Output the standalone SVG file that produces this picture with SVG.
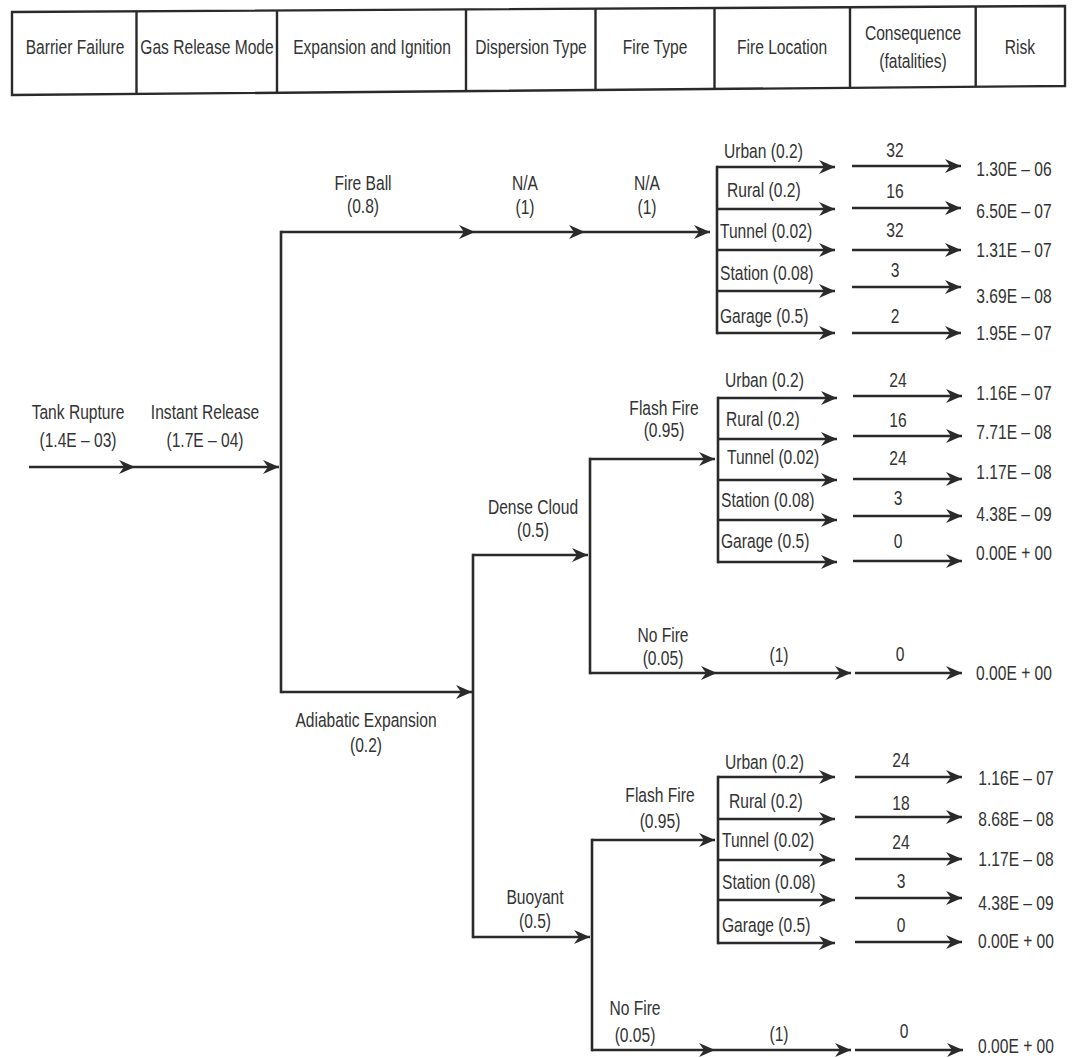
<svg xmlns="http://www.w3.org/2000/svg" width="1072" height="1058" viewBox="0 0 1072 1058">
<style>
text{font-family:"Liberation Sans",Arial,sans-serif;font-size:19.5px;fill:#333;text-anchor:middle}
text.s{text-anchor:start}
.ln{fill:none;stroke:#2a2a2a;stroke-width:2.6}
.ar{marker-end:url(#ah)}
.mm{marker-mid:url(#ah);marker-end:url(#ah)}
.v{stroke-linecap:square}
.tbl{fill:none;stroke:#2a2a2a;stroke-width:2.4}
</style>
<defs>
<marker id="ah" viewBox="-17 -8 18 16" refX="0" refY="0" markerWidth="18" markerHeight="16" markerUnits="userSpaceOnUse" orient="auto">
<path d="M0,0 L-16,-7 L-11,0 L-16,7 Z" fill="#2a2a2a"/>
</marker>
</defs>
<rect width="1072" height="1058" fill="#fff"/>

<g id="header">
<path class="tbl" d="M12,12 L1065,6 L1065,86 L12,95 Z"/>
<path class="tbl" d="M136.5,11.3 V93.9 M277,10.5 V92.7 M466,9.4 V91.1 M595.5,8.7 V90 M714.5,8 V89 M850,7.2 V87.8 M975.7,6.5 V86.8"/>
<text transform="matrix(.8 0 0 1 75 54)">Barrier Failure</text>
<text transform="matrix(.8 0 0 1 207 54)">Gas Release Mode</text>
<text transform="matrix(.8 0 0 1 372 54)">Expansion and Ignition</text>
<text transform="matrix(.8 0 0 1 531 54)">Dispersion Type</text>
<text transform="matrix(.8 0 0 1 655 54)">Fire Type</text>
<text transform="matrix(.8 0 0 1 782 54)">Fire Location</text>
<text transform="matrix(.8 0 0 1 913 40)">Consequence</text>
<text transform="matrix(.8 0 0 1 913 68)">(fatalities)</text>
<text transform="matrix(.8 0 0 1 1020 54)">Risk</text>
</g>

<g id="connectors" class="ln">
<path class="ar" d="M29,467 H135"/>
<path class="ar" d="M135,467 H279"/>
<path class="v" d="M281,232 V692"/>
<path class="mm" d="M281,232 H475 H585 H710"/>
<path class="ar" d="M281,692 H472"/>
<path class="v" d="M473,555 V937"/>
<path class="ar" d="M473,555 H588"/>
<path class="v" d="M590,459 V673"/>
<path class="ar" d="M590,459 H715"/>
<path class="mm" d="M590,673 H717 H851"/>
<path class="ar" d="M855,673 H962"/>
<path class="ar" d="M473,937 H590"/>
<path class="v" d="M592,840 V1050"/>
<path class="ar" d="M592,840 H715"/>
<path class="mm" d="M592,1050 H715 H851"/>
<path class="ar" d="M855,1050 H963"/>
<!-- bracket 1 -->
<path class="v" d="M717,167 V333"/>
<path class="ar" d="M717,167 H835"/>
<path class="ar" d="M717,209 H835"/>
<path class="ar" d="M717,250 H835"/>
<path class="ar" d="M717,291 H835"/>
<path class="ar" d="M717,333 H835"/>
<path class="ar" d="M852,166 H961"/>
<path class="ar" d="M852,208 H961"/>
<path class="ar" d="M852,250 H961"/>
<path class="ar" d="M852,287 H961"/>
<path class="ar" d="M852,333 H961"/>
<!-- bracket 2 -->
<path class="v" d="M718,398 V562"/>
<path class="ar" d="M718,398 H837"/>
<path class="ar" d="M718,439 H837"/>
<path class="ar" d="M718,480 H837"/>
<path class="ar" d="M718,520 H837"/>
<path class="ar" d="M718,562 H837"/>
<path class="ar" d="M853,396 H962"/>
<path class="ar" d="M853,436 H962"/>
<path class="ar" d="M853,479 H962"/>
<path class="ar" d="M853,516 H962"/>
<path class="ar" d="M853,561 H962"/>
<!-- bracket 3 -->
<path class="v" d="M718,777 V943"/>
<path class="ar" d="M718,777 H835"/>
<path class="ar" d="M718,819 H835"/>
<path class="ar" d="M718,860 H835"/>
<path class="ar" d="M718,900 H835"/>
<path class="ar" d="M718,943 H835"/>
<path class="ar" d="M855,777 H962"/>
<path class="ar" d="M855,817 H962"/>
<path class="ar" d="M855,859 H962"/>
<path class="ar" d="M855,898 H962"/>
<path class="ar" d="M855,942 H962"/>
</g>

<g id="n-tank-rupture"><text transform="matrix(.8 0 0 1 78 419)">Tank Rupture</text><text transform="matrix(.8 0 0 1 78 447)">(1.4E – 03)</text></g>
<g id="n-instant-release"><text transform="matrix(.8 0 0 1 205 419)">Instant Release</text><text transform="matrix(.8 0 0 1 205 447)">(1.7E – 04)</text></g>
<g id="n-fire-ball"><text transform="matrix(.8 0 0 1 363 190)">Fire Ball</text><text transform="matrix(.8 0 0 1 363 213)">(0.8)</text></g>
<g id="n-fb-dispersion"><text transform="matrix(.8 0 0 1 525 190)">N/A</text><text transform="matrix(.8 0 0 1 525 214)">(1)</text></g>
<g id="n-fb-firetype"><text transform="matrix(.8 0 0 1 647 190)">N/A</text><text transform="matrix(.8 0 0 1 647 214)">(1)</text></g>
<g id="n-adiabatic"><text transform="matrix(.8 0 0 1 366 727)">Adiabatic Expansion</text><text transform="matrix(.8 0 0 1 366 752)">(0.2)</text></g>
<g id="n-dense-cloud"><text transform="matrix(.8 0 0 1 533 514)">Dense Cloud</text><text transform="matrix(.8 0 0 1 533 537)">(0.5)</text></g>
<g id="n-buoyant"><text transform="matrix(.8 0 0 1 535 904)">Buoyant</text><text transform="matrix(.8 0 0 1 535 928)">(0.5)</text></g>
<g id="n-dc-flash-fire"><text transform="matrix(.8 0 0 1 664 415)">Flash Fire</text><text transform="matrix(.8 0 0 1 664 437)">(0.95)</text></g>
<g id="n-dc-no-fire"><text transform="matrix(.8 0 0 1 663 642)">No Fire</text><text transform="matrix(.8 0 0 1 663 665)">(0.05)</text></g>
<g id="n-by-flash-fire"><text transform="matrix(.8 0 0 1 660 802)">Flash Fire</text><text transform="matrix(.8 0 0 1 660 828)">(0.95)</text></g>
<g id="n-by-no-fire"><text transform="matrix(.8 0 0 1 635 1015)">No Fire</text><text transform="matrix(.8 0 0 1 635 1042)">(0.05)</text></g>

<g id="n-fb-locations">
<text class="s" transform="matrix(.8 0 0 1 724 158)">Urban (0.2)</text>
<text class="s" transform="matrix(.8 0 0 1 727 197)">Rural (0.2)</text>
<text class="s" transform="matrix(.8 0 0 1 720 238)">Tunnel (0.02)</text>
<text class="s" transform="matrix(.8 0 0 1 720 280)">Station (0.08)</text>
<text class="s" transform="matrix(.8 0 0 1 720 323)">Garage (0.5)</text>
</g>
<g id="n-fb-consequence">
<text transform="matrix(.8 0 0 1 895 157)">32</text>
<text transform="matrix(.8 0 0 1 895 198)">16</text>
<text transform="matrix(.8 0 0 1 895 237)">32</text>
<text transform="matrix(.8 0 0 1 895 277)">3</text>
<text transform="matrix(.8 0 0 1 895 323)">2</text>
</g>
<g id="n-fb-risk">
<text transform="matrix(.8 0 0 1 1014 176)">1.30E – 06</text>
<text transform="matrix(.8 0 0 1 1014 218)">6.50E – 07</text>
<text transform="matrix(.8 0 0 1 1014 257)">1.31E – 07</text>
<text transform="matrix(.8 0 0 1 1014 303)">3.69E – 08</text>
<text transform="matrix(.8 0 0 1 1014 340)">1.95E – 07</text>
</g>

<g id="n-dc-locations">
<text class="s" transform="matrix(.8 0 0 1 725 387)">Urban (0.2)</text>
<text class="s" transform="matrix(.8 0 0 1 726 426)">Rural (0.2)</text>
<text class="s" transform="matrix(.8 0 0 1 727 464)">Tunnel (0.02)</text>
<text class="s" transform="matrix(.8 0 0 1 721 507)">Station (0.08)</text>
<text class="s" transform="matrix(.8 0 0 1 721 548)">Garage (0.5)</text>
</g>
<g id="n-dc-consequence">
<text transform="matrix(.8 0 0 1 898 387)">24</text>
<text transform="matrix(.8 0 0 1 898 427)">16</text>
<text transform="matrix(.8 0 0 1 898 465)">24</text>
<text transform="matrix(.8 0 0 1 898 505)">3</text>
<text transform="matrix(.8 0 0 1 898 548)">0</text>
</g>
<g id="n-dc-risk">
<text transform="matrix(.8 0 0 1 1014 400)">1.16E – 07</text>
<text transform="matrix(.8 0 0 1 1014 439)">7.71E – 08</text>
<text transform="matrix(.8 0 0 1 1014 479)">1.17E – 08</text>
<text transform="matrix(.8 0 0 1 1014 521)">4.38E – 09</text>
<text transform="matrix(.8 0 0 1 1014 560)">0.00E + 00</text>
</g>
<g id="n-dc-nofire-outcome">
<text transform="matrix(.8 0 0 1 779 662)">(1)</text>
<text transform="matrix(.8 0 0 1 900 661)">0</text>
<text transform="matrix(.8 0 0 1 1014 680)">0.00E + 00</text>
</g>

<g id="n-by-locations">
<text class="s" transform="matrix(.8 0 0 1 725 769)">Urban (0.2)</text>
<text class="s" transform="matrix(.8 0 0 1 729 808)">Rural (0.2)</text>
<text class="s" transform="matrix(.8 0 0 1 722 847)">Tunnel (0.02)</text>
<text class="s" transform="matrix(.8 0 0 1 722 889)">Station (0.08)</text>
<text class="s" transform="matrix(.8 0 0 1 722 932)">Garage (0.5)</text>
</g>
<g id="n-by-consequence">
<text transform="matrix(.8 0 0 1 901 767)">24</text>
<text transform="matrix(.8 0 0 1 901 810)">18</text>
<text transform="matrix(.8 0 0 1 901 849)">24</text>
<text transform="matrix(.8 0 0 1 901 888)">3</text>
<text transform="matrix(.8 0 0 1 901 932)">0</text>
</g>
<g id="n-by-risk">
<text transform="matrix(.8 0 0 1 1016 785)">1.16E – 07</text>
<text transform="matrix(.8 0 0 1 1016 826)">8.68E – 08</text>
<text transform="matrix(.8 0 0 1 1016 866)">1.17E – 08</text>
<text transform="matrix(.8 0 0 1 1016 910)">4.38E – 09</text>
<text transform="matrix(.8 0 0 1 1016 948)">0.00E + 00</text>
</g>
<g id="n-by-nofire-outcome">
<text transform="matrix(.8 0 0 1 779 1041)">(1)</text>
<text transform="matrix(.8 0 0 1 904 1038)">0</text>
<text transform="matrix(.8 0 0 1 1016 1053)">0.00E + 00</text>
</g>
</svg>
